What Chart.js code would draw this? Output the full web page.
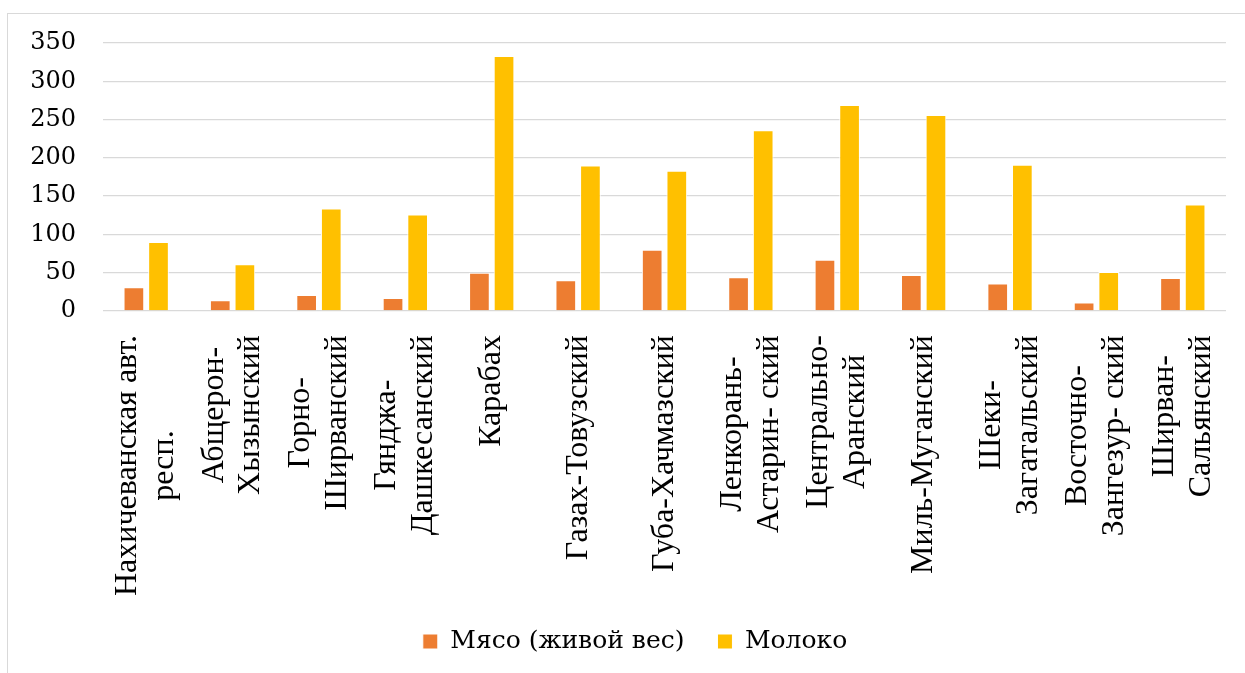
<!DOCTYPE html>
<html>
<head>
<meta charset="utf-8">
<script src="https://cdn.jsdelivr.net/npm/chart.js@4"></script>
<style>
  body { margin: 0; background: #fff; }
  #wrap { position: relative; width: 1245px; height: 673px; overflow: hidden; }
  #frame { position: absolute; left: 7px; top: 13px; width: 1300px; height: 700px; border: 1.5px solid #d9d9d9; }
  #myChart { position: absolute; left: 0; top: 0; }
</style>
</head>
<body>
<div id="wrap">
  <div id="frame"></div>
  <canvas id="myChart" width="1245" height="673"></canvas>
</div>
<script>
// районы
const regions = [
  ['Нахичеванская авт.', 'респ.'],
  ['Абщерон-', 'Хызынский'],
  ['Горно-', 'Ширванский'],
  ['Гянджа-', 'Дашкесанский'],
  'Карабах',
  'Газах-Товузский',
  'Губа-Хачмазский',
  ['Ленкорань-', 'Астарин- ский'],
  ['Центрально-', 'Аранский'],
  'Миль-Муганский',
  ['Шеки-', 'Загатальский'],
  ['Восточно-', 'Зангезур- ский'],
  ['Ширван-', 'Сальянский']
];
const meat = [31, 14, 21, 17, 50, 40, 80, 44, 67, 47, 36, 11, 43];
const milk = [90, 61, 134, 126, 333, 190, 183, 236, 269, 256, 191, 51, 139];
const seriesNames = ['Мясо (живой вес)', 'Молоко'];
const yTicks = [0, 50, 100, 150, 200, 250, 300, 350];

const chartElement = document.getElementById('myChart');

// подписи как в Excel: строки по центру, блок прижат к оси
const centerLabels = {
  id: 'centerLabels',
  afterLayout(chart) {
    // легенда в оригинале чуть правее
    chart.legend.left += 22;
    chart.legend.right += 22;
  },
  beforeDraw(chart) {
    const scale = chart.scales.x;
    const items = scale.getLabelItems();
    const ctx = chart.ctx;
    items.forEach(it => {
      if (it._moved) return;
      it._moved = true;
      const lines = Array.isArray(it.label) ? it.label : [it.label];
      ctx.save();
      ctx.font = it.font.string;
      const w = Math.max(...lines.map(l => ctx.measureText(l).width));
      ctx.restore();
      it.options.textAlign = 'center';
      it.options.translation[1] += w / 2;
      it.options.translation[0] -= (lines.length - 1) * it.font.lineHeight / 2;
    });
  }
};

const data = {
  labels: regions,
  datasets: [{
    label: seriesNames[0],
    data: meat,
    backgroundColor: '#ED7D31',
    borderColor: '#ffffff',
    borderWidth: 1,
    barPercentage: 0.84,
    categoryPercentage: 0.57
  }, {
    label: seriesNames[1],
    data: milk,
    backgroundColor: '#FFC000',
    borderColor: '#ffffff',
    borderWidth: 1,
    barPercentage: 0.84,
    categoryPercentage: 0.57
  }]
};

const config = {
  type: 'bar',
  data: data,
  plugins: [centerLabels],
  options: {
    responsive: false,
    animation: false,
    devicePixelRatio: 1,
    layout: { padding: { top: 43, right: 19, bottom: 9, left: 0 } },
    plugins: {
      tooltip: { enabled: false },
      legend: {
        position: 'bottom',
        labels: {
          color: '#000',
          font: { family: 'DejaVu Serif', size: 25 },
          boxWidth: 15,
          boxHeight: 15,
          padding: 33
        }
      }
    },
    scales: {
      x: {
        grid: { display: false },
        border: { display: false },
        ticks: {
          color: '#000',
          maxRotation: 90,
          minRotation: 90,
          autoSkip: false,
          padding: 16,
          font: { family: 'Liberation Serif', size: 32, lineHeight: 1.15 }
        },
        afterFit: function (scale) {
          scale.height = 285;
          scale.paddingLeft = 0;
          scale.paddingRight = 0;
        }
      },
      y: {
        min: 0,
        max: 350,
        afterBuildTicks: function (scale) { scale.ticks = yTicks.map(v => ({ value: v })); },
        grid: { color: '#d9d9d9', lineWidth: 1.3, drawTicks: false },
        border: { display: false },
        ticks: {
          color: '#000',
          padding: 27,
          font: { family: 'DejaVu Serif', size: 24 }
        },
        afterFit: function (scale) {
          scale.width = 103;
          scale.paddingTop = 0;
          scale.paddingBottom = 0;
        }
      }
    }
  }
};

const myChart = new Chart(chartElement, config);
</script>
</body>
</html>
